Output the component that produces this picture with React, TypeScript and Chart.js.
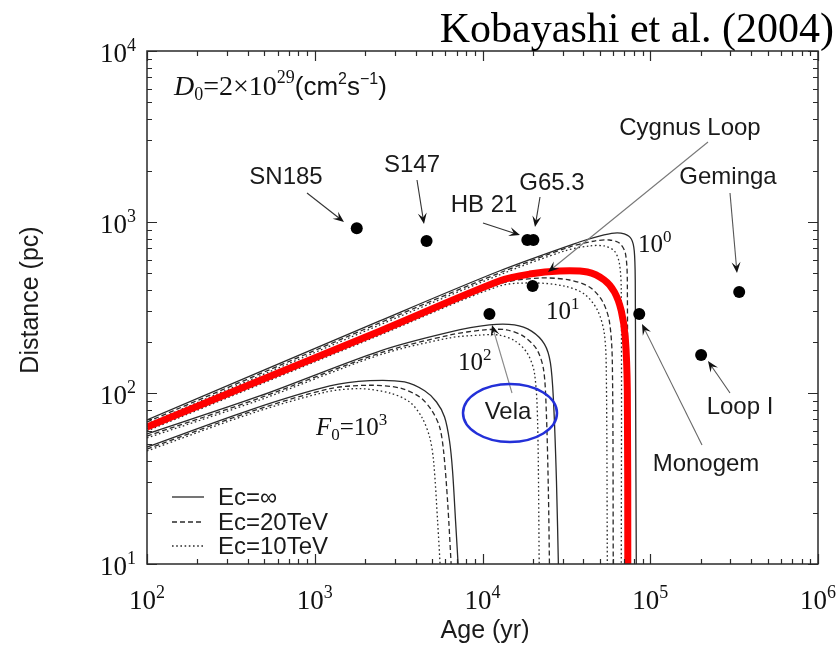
import React, { useEffect, useRef } from "react";
import { Chart, registerables } from "chart.js";

Chart.register(...registerables);

// ---------- axes ----------
const AGE_MIN = 1e2;
const AGE_MAX = 1e6;
const DIST_MIN = 1e1;
const DIST_MAX = 1e4;
const AGE_TICK_EXPONENTS = [2, 3, 4, 5, 6];
const DIST_TICK_EXPONENTS = [1, 2, 3, 4];

// ---------- sources (age in yr, distance in pc) ----------
const SOURCE_NAMES = ["SN185", "S147", "HB 21", "G65.3", "Cygnus Loop", "Vela", "Monogem", "Geminga", "Loop I"];
const SOURCE_AGES = [1780, 4640, 18500, 20100, 19900, 11000, 86000, 339000, 201000];
const SOURCE_DISTANCES = [920, 774, 785, 785, 422, 290, 290, 390, 167];

// ---------- boundary curves ----------
// F0 = 10^0
const F0E0_SOLID_AGE = [100, 2440, 12600, 37800, 49700, 61100, 70000, 77100, 80300, 81400, 81800, 82600];
const F0E0_SOLID_DIST = [69.5, 264, 517, 764, 828, 862, 851, 795, 677, 452, 100, 9];
const F0E0_DASH_AGE = [100, 2440, 12600, 33000, 46400, 57000, 65400, 71000, 73000, 73000];
const F0E0_DASH_DIST = [67.7, 257, 503, 714, 774, 785, 754, 659, 452, 9];
const F0E0_DOT_AGE = [100, 2440, 12600, 30800, 43400, 53200, 61100, 65400, 67200, 67200];
const F0E0_DOT_DIST = [65.9, 250, 490, 677, 724, 724, 677, 576, 395, 9];
// F0 = 10^1 (solid highlighted in red)
const F0E1_SOLID_AGE = [100, 2440, 12600, 19100, 28700, 42200, 53200, 61100, 67200, 71000, 73000, 73500];
const F0E1_SOLID_DIST = [63.3, 230, 452, 496, 517, 510, 458, 390, 302, 210, 103, 9];
const F0E1_DASH_AGE = [100, 2440, 12600, 21800, 33000, 43400, 51800, 57000, 59400, 60200];
const F0E1_DASH_DIST = [61.6, 224, 434, 470, 458, 417, 345, 264, 154, 9];
const F0E1_DOT_AGE = [100, 2440, 12600, 20400, 30800, 40500, 48400, 53200, 54700, 55500];
const F0E1_DOT_DIST = [60.0, 218, 422, 440, 422, 379, 306, 224, 134, 9];
// F0 = 10^2
const F0E2_SOLID_AGE = [100, 470, 2440, 6360, 11000, 15500, 19600, 23400, 25400, 26500, 27600, 28400];
const F0E2_SOLID_DIST = [57.6, 96.1, 176, 227, 250, 250, 230, 193, 150, 89.8, 30.6, 9];
const F0E2_DASH_AGE = [100, 470, 2440, 6360, 10300, 13900, 17500, 21000, 23100, 24000, 24700, 25100];
const F0E2_DASH_DIST = [56.0, 93.5, 171, 218, 234, 234, 215, 181, 138, 78.5, 26.7, 9];
const F0E2_DOT_AGE = [100, 470, 2440, 6360, 9600, 12600, 15700, 18500, 20400, 21300, 21800];
const F0E2_DOT_DIST = [54.6, 91.0, 167, 210, 218, 218, 201, 171, 131, 68.6, 9];
// F0 = 10^3
const F0E3_SOLID_AGE = [100, 410, 1230, 2130, 3430, 4520, 5320, 5940, 6360, 6630, 6910, 7200];
const F0E3_SOLID_DIST = [48.3, 79.5, 110, 118, 116, 103, 88.6, 72.4, 52.4, 35.0, 17.8, 9];
const F0E3_DASH_AGE = [100, 410, 1230, 2130, 3210, 4220, 4970, 5550, 5860, 6190, 6540];
const F0E3_DASH_DIST = [47.0, 77.4, 106, 111, 107, 94.8, 79.5, 63.3, 45.8, 23.4, 9];
const F0E3_DOT_AGE = [100, 410, 1150, 1850, 2800, 3680, 4340, 4840, 5110, 5400, 5620];
const F0E3_DOT_DIST = [45.8, 75.4, 101, 106, 100, 88.6, 72.4, 55.3, 40.0, 17.8, 9];

const LEGEND_LABELS = ["Ec=\u221E", "Ec=20TeV", "Ec=10TeV"];

const SERIF = '"Liberation Serif", "Times New Roman", serif';
const SANS = '"Liberation Sans", Arial, sans-serif';
const INK = "#2a2a2a";

const pts = (ages: number[], dists: number[]) => ages.map((a, i) => ({ x: a, y: dists[i] }));

const DASH_SOLID: number[] = [];
const DASH_DASHED = [5, 3];
const DASH_DOTTED = [1.6, 2.6];

function curve(ages: number[], dists: number[], dash: number[]) {
  return {
    data: pts(ages, dists),
    showLine: true,
    borderColor: INK,
    borderWidth: 1.3,
    borderDash: dash,
    pointRadius: 0,
    tension: 0.3,
    order: 3,
  };
}

type Run = { t: string; f: string; dy: number };
function drawRuns(ctx: CanvasRenderingContext2D, runs: Run[], x: number, y: number) {
  let cx = x;
  ctx.textAlign = "left";
  ctx.textBaseline = "alphabetic";
  for (const r of runs) {
    ctx.font = r.f;
    ctx.fillText(r.t, cx, y + r.dy);
    cx += ctx.measureText(r.t).width;
  }
}

function drawPow(ctx: CanvasRenderingContext2D, exp: string, x: number, y: number, align: string, size: number) {
  const es = Math.round(size * 0.66);
  ctx.font = `${size}px ${SERIF}`;
  const wb = ctx.measureText("10").width;
  ctx.font = `${es}px ${SERIF}`;
  const we = ctx.measureText(exp).width;
  const total = wb + we;
  const sx = align === "center" ? x - total / 2 : align === "right" ? x - total : x;
  drawRuns(ctx, [
    { t: "10", f: `${size}px ${SERIF}`, dy: 0 },
    { t: exp, f: `${es}px ${SERIF}`, dy: -Math.round(size * 0.4) },
  ], sx, y);
}

function arrow(ctx: CanvasRenderingContext2D, x1: number, y1: number, x2: number, y2: number, color: string) {
  const a = Math.atan2(y2 - y1, x2 - x1);
  const len = 11, half = 4.5;
  const c = Math.cos(a), s = Math.sin(a);
  ctx.strokeStyle = color;
  ctx.lineWidth = 1.1;
  ctx.setLineDash([]);
  ctx.beginPath();
  ctx.moveTo(x1, y1);
  ctx.lineTo(x2 - c * 6, y2 - s * 6);
  ctx.stroke();
  ctx.fillStyle = "#111";
  ctx.beginPath();
  ctx.moveTo(x2, y2);
  ctx.lineTo(x2 - c * len - s * half, y2 - s * len + c * half);
  ctx.lineTo(x2 - c * len * 0.6, y2 - s * len * 0.6);
  ctx.lineTo(x2 - c * len + s * half, y2 - s * len - c * half);
  ctx.closePath();
  ctx.fill();
}

const decor = {
  id: "decor",
  afterDraw(chart: any) {
    const { ctx, chartArea: ca } = chart;
    const xs = chart.scales.x;
    const ys = chart.scales.y;
    ctx.save();
    ctx.setLineDash([]);
    // frame
    ctx.strokeStyle = INK;
    ctx.lineWidth = 1.5;
    ctx.strokeRect(ca.left, ca.top, ca.right - ca.left, ca.bottom - ca.top);
    // ticks (inward on all four sides)
    ctx.lineWidth = 1.2;
    ctx.beginPath();
    for (let e = 2; e <= 6; e++) {
      for (let k = 1; k <= 9; k++) {
        const v = k * Math.pow(10, e);
        if (v > AGE_MAX) break;
        const px = Math.round(xs.getPixelForValue(v)) + 0.5;
        const len = k === 1 ? 10 : 5;
        ctx.moveTo(px, ca.bottom); ctx.lineTo(px, ca.bottom - len);
        ctx.moveTo(px, ca.top); ctx.lineTo(px, ca.top + len);
      }
    }
    for (let e = 1; e <= 4; e++) {
      for (let k = 1; k <= 9; k++) {
        const v = k * Math.pow(10, e);
        if (v > DIST_MAX) break;
        const py = Math.round(ys.getPixelForValue(v)) + 0.5;
        const len = k === 1 ? 10 : 5;
        ctx.moveTo(ca.left, py); ctx.lineTo(ca.left + len, py);
        ctx.moveTo(ca.right, py); ctx.lineTo(ca.right - len, py);
      }
    }
    ctx.stroke();

    ctx.fillStyle = "#111";
    // tick labels
    for (const e of AGE_TICK_EXPONENTS) {
      drawPow(ctx, String(e), xs.getPixelForValue(Math.pow(10, e)), 609, "center", 27);
    }
    for (const e of DIST_TICK_EXPONENTS) {
      drawPow(ctx, String(e), 136, ys.getPixelForValue(Math.pow(10, e)) + 11, "right", 27);
    }
    // axis titles
    ctx.font = `25px ${SANS}`;
    ctx.textAlign = "center";
    ctx.textBaseline = "middle";
    ctx.fillStyle = "#1a1a1a";
    ctx.fillText("Age (yr)", 485, 631);
    ctx.save();
    ctx.translate(31, 300);
    ctx.rotate(-Math.PI / 2);
    ctx.fillText("Distance (pc)", 0, 0);
    ctx.restore();

    // title
    ctx.font = `42px ${SERIF}`;
    ctx.textAlign = "right";
    ctx.textBaseline = "alphabetic";
    ctx.fillStyle = "#000";
    ctx.fillText("Kobayashi et al. (2004)", 834, 42);

    // diffusion coefficient note
    ctx.fillStyle = "#111";
    drawRuns(ctx, [
      { t: "D", f: `italic 28px ${SERIF}`, dy: 0 },
      { t: "0", f: `18px ${SERIF}`, dy: 5 },
      { t: "=2\u00D710", f: `28px ${SERIF}`, dy: 0 },
      { t: "29", f: `18px ${SERIF}`, dy: -12 },
      { t: "(cm", f: `26px ${SANS}`, dy: 0 },
      { t: "2", f: `16px ${SANS}`, dy: -11 },
      { t: "s", f: `26px ${SANS}`, dy: 0 },
      { t: "\u22121", f: `16px ${SANS}`, dy: -11 },
      { t: ")", f: `26px ${SANS}`, dy: 0 },
    ], 174, 95);

    // curve labels
    drawPow(ctx, "0", 638, 252, "left", 25);
    drawPow(ctx, "1", 546, 319, "left", 25);
    drawPow(ctx, "2", 458, 370, "left", 25);
    drawRuns(ctx, [
      { t: "F", f: `italic 25px ${SERIF}`, dy: 0 },
      { t: "0", f: `17px ${SERIF}`, dy: 5 },
      { t: "=10", f: `25px ${SERIF}`, dy: 0 },
      { t: "3", f: `17px ${SERIF}`, dy: -10 },
    ], 316, 435);

    // source labels
    const labelPos: [number, number][] = [
      [286, 177], [412, 165], [484, 205], [552, 183], [690, 128], [508, 412], [706, 464], [728, 177], [740, 407],
    ];
    ctx.font = `24px ${SANS}`;
    ctx.textAlign = "center";
    ctx.textBaseline = "middle";
    ctx.fillStyle = "#1a1a1a";
    SOURCE_NAMES.forEach((n, i) => ctx.fillText(n, labelPos[i][0], labelPos[i][1]));

    // arrows from labels to sources
    const arrows: [number, number, number, number, string][] = [
      [307, 193, 344, 222, "#333"],
      [417, 180, 424, 224, "#333"],
      [483, 223, 520, 235, "#333"],
      [540, 197, 535, 227, "#333"],
      [708, 142, 548, 272, "#777"],
      [512, 393, 492, 325, "#888"],
      [702, 445, 642, 324, "#666"],
      [730, 193, 737, 273, "#555"],
      [730, 393, 708, 361, "#555"],
    ];
    for (const a of arrows) arrow(ctx, a[0], a[1], a[2], a[3], a[4]);

    // Vela highlight ellipse
    ctx.strokeStyle = "#2330d8";
    ctx.lineWidth = 2.5;
    ctx.beginPath();
    ctx.ellipse(510, 413, 47, 29, 0, 0, Math.PI * 2);
    ctx.stroke();

    // legend
    const dashes = [DASH_SOLID, DASH_DASHED, DASH_DOTTED];
    const rows = [497, 522, 546];
    LEGEND_LABELS.forEach((lab, i) => {
      ctx.strokeStyle = INK;
      ctx.lineWidth = 1.3;
      ctx.setLineDash(dashes[i]);
      ctx.beginPath();
      ctx.moveTo(172, rows[i]);
      ctx.lineTo(204, rows[i]);
      ctx.stroke();
      ctx.setLineDash([]);
      ctx.font = `24px ${SANS}`;
      ctx.textAlign = "left";
      ctx.textBaseline = "middle";
      ctx.fillStyle = "#1a1a1a";
      ctx.fillText(lab, 218, rows[i] + 1);
    });
    ctx.restore();
  },
};

export default function App() {
  const ref = useRef<HTMLCanvasElement>(null);
  useEffect(() => {
    const canvas = ref.current;
    if (!canvas) return;
    const datasets: any[] = [
      curve(F0E0_SOLID_AGE, F0E0_SOLID_DIST, DASH_SOLID),
      curve(F0E0_DASH_AGE, F0E0_DASH_DIST, DASH_DASHED),
      curve(F0E0_DOT_AGE, F0E0_DOT_DIST, DASH_DOTTED),
      curve(F0E1_DASH_AGE, F0E1_DASH_DIST, DASH_DASHED),
      curve(F0E1_DOT_AGE, F0E1_DOT_DIST, DASH_DOTTED),
      curve(F0E2_SOLID_AGE, F0E2_SOLID_DIST, DASH_SOLID),
      curve(F0E2_DASH_AGE, F0E2_DASH_DIST, DASH_DASHED),
      curve(F0E2_DOT_AGE, F0E2_DOT_DIST, DASH_DOTTED),
      curve(F0E3_SOLID_AGE, F0E3_SOLID_DIST, DASH_SOLID),
      curve(F0E3_DASH_AGE, F0E3_DASH_DIST, DASH_DASHED),
      curve(F0E3_DOT_AGE, F0E3_DOT_DIST, DASH_DOTTED),
      {
        data: pts(F0E1_SOLID_AGE, F0E1_SOLID_DIST),
        showLine: true,
        borderColor: "#ff0000",
        borderWidth: 7,
        pointRadius: 0,
        tension: 0.3,
        order: 2,
      },
      {
        data: pts(SOURCE_AGES, SOURCE_DISTANCES),
        showLine: false,
        pointRadius: 6,
        pointBackgroundColor: "#000",
        pointBorderColor: "#000",
        pointBorderWidth: 0,
        order: 1,
      },
    ];
    const chart = new Chart(canvas, {
      type: "scatter",
      data: { datasets },
      options: {
        animation: false,
        responsive: false,
        devicePixelRatio: 1,
        events: [],
        layout: { padding: { left: 147, right: 20, top: 51, bottom: 83 } },
        plugins: { legend: { display: false }, tooltip: { enabled: false }, title: { display: false } },
        scales: {
          x: { type: "logarithmic", min: AGE_MIN, max: AGE_MAX, display: false },
          y: { type: "logarithmic", min: DIST_MIN, max: DIST_MAX, display: false },
        },
      },
      plugins: [decor],
    } as any);
    return () => chart.destroy();
  }, []);
  return (
    <div style={{ position: "fixed", left: 0, top: 0, width: 838, height: 647, background: "#fff" }}>
      <canvas ref={ref} width={838} height={647} style={{ display: "block", width: 838, height: 647 }} />
    </div>
  );
}
